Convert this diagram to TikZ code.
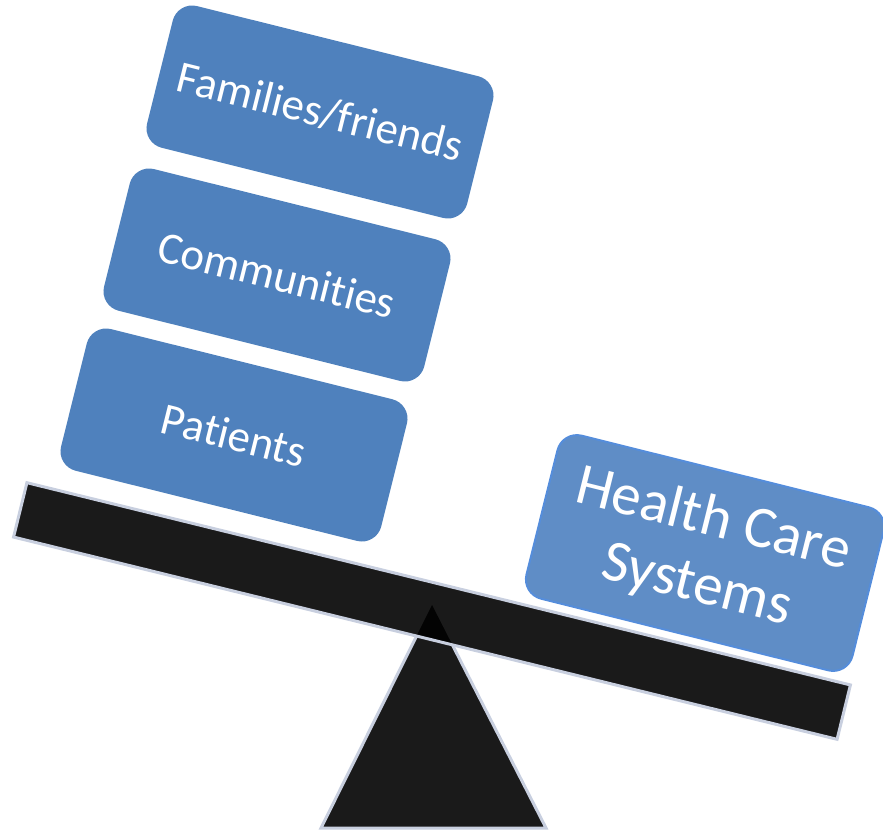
\documentclass[tikz,border=0pt]{standalone}
\usepackage{fontspec}
\setmainfont{Carlito}[RawFeature={-liga;-clig;-calt;-dlig}]
\definecolor{boxblue}{HTML}{4F81BD}
\definecolor{hcblue}{HTML}{5F8DC6}
\definecolor{hcedge}{HTML}{558DDB}
\definecolor{beamfill}{HTML}{1A1A1A}
\definecolor{tipfill}{HTML}{030303}
\definecolor{beamedge}{HTML}{C8CFDF}
\tikzset{
  weightbox/.style={rectangle, rounded corners=20pt, fill=boxblue, draw=none,
    minimum width=330pt, minimum height=146pt, rotate=-14, text=white,
    font=\fontsize{45}{50}\selectfont, inner sep=0pt},
  hcbox/.style={rectangle, rounded corners=20pt, fill=hcblue, draw=hcedge, line width=2pt,
    minimum width=336pt, minimum height=168pt, rotate=-14, text=white, align=center,
    font=\fontsize{59}{68}\selectfont, inner sep=0pt},
  beambar/.style={rectangle, fill=beamfill, draw=none, outer sep=0pt,
    minimum width=848pt, minimum height=56pt, rotate=-13.8, inner sep=0pt},
  edgeline/.style={draw=beamedge, line width=3pt, line join=miter},
  fulcrum/.style={fill=beamfill, edgeline}
}
\begin{document}
\begin{tikzpicture}[x=1pt,y=-1pt]
\useasboundingbox (0,0) rectangle (883,833);
% fulcrum
\coordinate (apex) at (432,605);
\coordinate (bl) at (321,828);
\coordinate (br) at (546,828);
\draw[fulcrum] (apex) -- (br) -- (bl) -- cycle;
% beam
\node[beambar] (beam) at (432,611) {};
\begin{scope}
  \clip (beam.north west) -- (beam.north east) -- (beam.south east) -- (beam.south west) -- cycle;
  \fill[tipfill] (apex) -- (br) -- (bl) -- cycle;
\end{scope}
\draw[edgeline] (beam.north west) -- (beam.north east) -- (beam.south east) -- (beam.south west) -- cycle;
% weights
\node[weightbox] (patients) at (234,435) {Patients};
\node[weightbox] (communities) at (277,275) {Communities};
\node[weightbox] (families) at (320,112) {Families/friends};
\node[hcbox] (hcs) at (705,553) {Health Care\\Systems};
\end{tikzpicture}
\end{document}
